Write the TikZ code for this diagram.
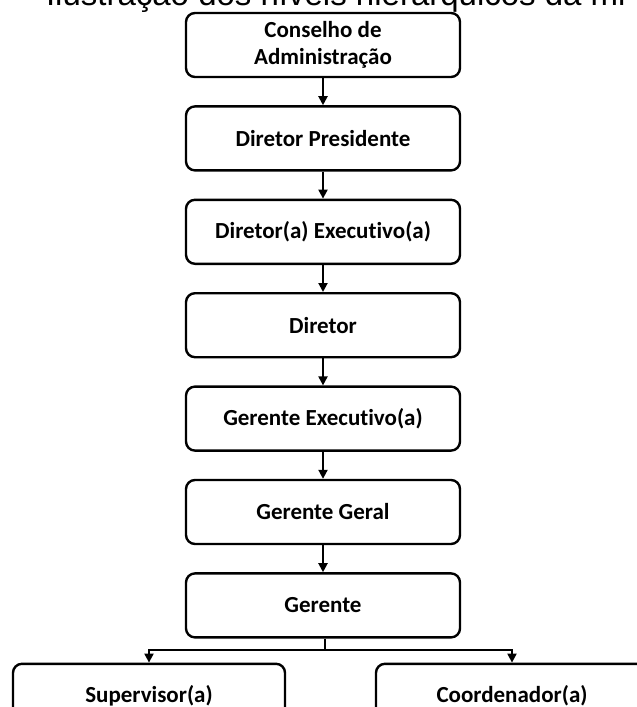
\documentclass[tikz,border=0pt]{standalone}
\usepackage{fontspec}
\setmainfont[Ligatures=NoCommon]{Carlito}
\newfontfamily\legenda{Liberation Sans}
\usetikzlibrary{positioning,arrows.meta}
\tikzset{
  Cargo/.style={draw,line width=2.4pt,rounded corners=9pt,
    minimum width=274pt,minimum height=64pt,inner sep=0pt,align=center,
    font=\fontsize{23}{27}\selectfont\bfseries},
  Base/.style={Cargo,minimum width=272pt},
  Seta/.style={-{Triangle[width=9pt,length=9pt]},line width=2pt}
}

\begin{document}
\begin{tikzpicture}[x=1pt,y=1pt]
    \useasboundingbox (0,0) rectangle (637,-707);

    \node[anchor=base west,font=\legenda\fontsize{33}{38}\selectfont] (titulo)
      at (15,-5) {– Ilustração dos níveis hierárquicos da mi};

    \node[Cargo] (CA) at (323,-45) {Conselho de\\Administração};
    \node[Cargo,below=27pt of CA] (DP) {Diretor Presidente};
    \node[Cargo,below=27pt of DP] (DE) {Diretor(a) Executivo(a)};
    \node[Cargo,below=27pt of DE] (D) {Diretor};
    \node[Cargo,below=27pt of D] (GE) {Gerente Executivo(a)};
    \node[Cargo,below=27pt of GE] (GG) {Gerente Geral};
    \node[Cargo,below=27pt of GG] (G) {Gerente};
    \node[Base,below=24pt of G,xshift=-174pt] (S) {Supervisor(a)};
    \node[Base,below=24pt of G,xshift=189pt] (C) {Coordenador(a)};

    \draw[Seta] (CA) -- (DP);
    \draw[Seta] (DP) -- (DE);
    \draw[Seta] (DE) -- (D);
    \draw[Seta] (D) -- (GE);
    \draw[Seta] (GE) -- (GG);
    \draw[Seta] (GG) -- (G);

    \draw[line width=2pt] ([xshift=2pt]G.south) -- ++(0,-11) coordinate (ramo);
    \draw[Seta] (ramo) -| (S.north);
    \draw[Seta] (ramo) -| (C.north);
\end{tikzpicture}
\end{document}
